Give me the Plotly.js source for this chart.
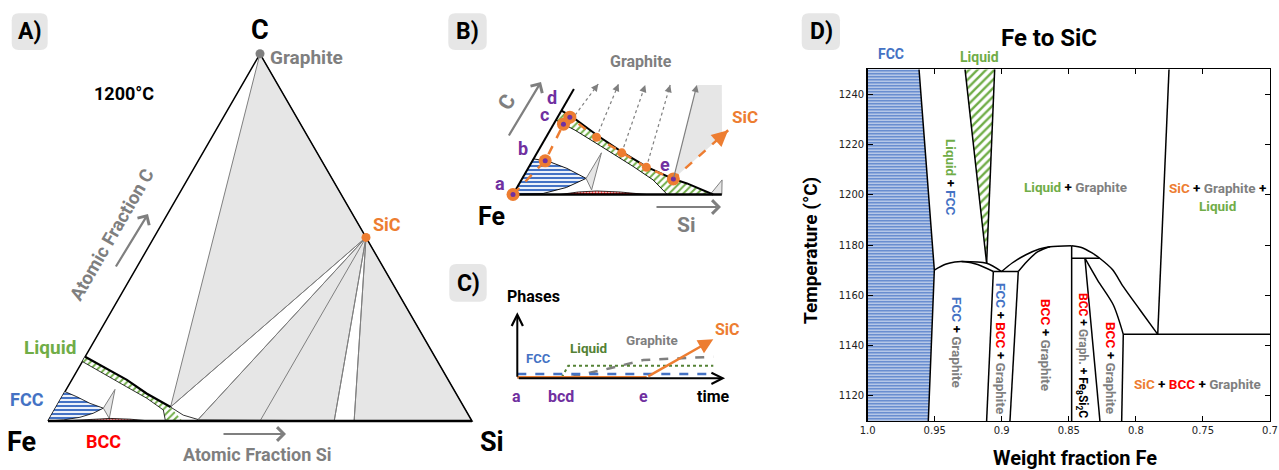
<!DOCTYPE html>
<html>
<head>
<meta charset="utf-8">
<script src="https://cdn.plot.ly/plotly-3.0.1.min.js"></script>
<style>html,body{margin:0;padding:0;background:#fff;}#fig{width:1279px;height:470px;}</style>
</head>
<body>
<div id="fig"></div>
<script>
const W = 1279, H = 470;
const COL = {fcc:'#4472c4', liq:'#70ad47', liqDark:'#548235', sic:'#ed7d31', bcc:'#ff0000', gray:'#7f7f7f', purple:'#7030a0', fill:'#e6e6e6'};
const F = 'Roboto, "Liberation Sans", sans-serif';

// ---------- A) Fe-Si-C isothermal section at 1200 °C, points as [x_Si, x_C] ----------
const triangleA = [[0,0],[0,1],[1,0],[0,0]];
const graphiteA = [0,1];
const sicA = [0.5,0.5];
const threePhaseA1 = [[0,1],[0.270,0.038],[0.5,0.5]];
const threePhaseA2 = [[0.5,0.5],[0.352,0.004],[0.675,0]];
const threePhaseA3 = [[0.5,0.5],[0.722,0],[1,0]];
const sicTieEndsA = [[0.270,0.038],[0.352,0.004],[0.5,0],[0.675,0],[0.722,0]];
const liquidUpperA = [[0,0.175],[0.057,0.148],[0.130,0.112],[0.195,0.075],[0.270,0.038]];
const liquidTailA = [[0.270,0.038],[0.311,0.016],[0.352,0.004]];
const liquidRightA = [[0.270,0.038],[0.317,0]];
const liquidLowerA = [[0,0.162],[0.066,0.130],[0.139,0.093],[0.202,0.062],[0.257,0.030],[0.277,0]];
const fccUpperA = [[0,0.080],[0.035,0.066],[0.075,0.048],[0.113,0.035]];
const fccLowerA = [[0.113,0.035],[0.096,0.021],[0.070,0.010],[0.035,0.003],[0,0]];
const fccTieA = [[0.113,0.035],[0.115,0.086],[0.141,0.007]];
const bccA = [[0.032,0],[0.085,0.004],[0.143,0.007],[0.191,0.005],[0.241,0]];

// ---------- B) Fe corner, enlarged ----------
const edgeB = [[0,0],[0,0.21]];
const baseB = [[0,0],[0.36,0]];
const fccB = [[0,0],[0,0.071],[0.031,0.065],[0.067,0.052],[0.110,0.032],[0.085,0.014],[0.051,0.002],[0,0]];
const fccTieB = [[0.110,0.032],[0.111,0.083],[0.131,0.009]];
const bccB = [[0.081,0],[0.110,0.005],[0.141,0.007],[0.182,0.005],[0.2305,0]];
const liquidUpperB = [[0,0.167],[0.024,0.155],[0.086,0.118],[0.145,0.085],[0.203,0.055],[0.258,0.032],[0.289,0.022],[0.332,0.006],[0.345,0]];
const liquidLowerB = [[0,0.148],[0.043,0.128],[0.102,0.097],[0.179,0.056],[0.227,0.029],[0.266,0]];
const threePhaseB = [[0.261,0.031],[0.208,0.218],[0.251,0.218],[0.302,0.117]];
const cornerB = [[0.340,0],[0.346,0.029],[0.36,0]];
const tieFromB = [[0.028,0.158],[0.087,0.114],[0.146,0.083],[0.203,0.054]];
const tieToB = [[0.037,0.220],[0.072,0.220],[0.119,0.218],[0.162,0.218]];
const tieSolidB = [[0.261,0.031],[0.208,0.218]];
const pathB = [[0,0],[0.022,0.067],[0.017,0.140],[0.021,0.154],[0.087,0.114],[0.146,0.083],[0.203,0.054],[0.261,0.031]];
const pathEndB = [0.307,0.128];
const stopIdxB = [0,1,2,3,7];
const midIdxB = [4,5,6];

// ---------- C) phase amounts along the path (time, amount) ----------
const fccC = [[0,0.43],[10,0.43]];
const liquidC = [[2.27,0.1],[2.6,1.26],[10,1.26]];
const graphiteC = [[0,0.1],[2.69,0.1],[4.73,1.0],[6.43,1.83],[10,2.16]];
const sicFlatC = [[0,0.1],[6.6,0.1]];
const sicRiseC = [[6.6,0.1],[10,3.9]];

// ---------- D) Fe to SiC section (weight fraction Fe, °C) ----------
const fccRegionD = [[1.0,1110],[1.0,1250],[0.9617,1250],[0.9503,1170.1],[0.9548,1110]];
const liquidRegionD = [[0.9274,1250],[0.9053,1250],[0.9113,1172.8]];
const fccEdgeD = [[0.9617,1250],[0.9503,1170.1],[0.9548,1110]];
const liqLeftD = [[0.9274,1250],[0.9113,1172.8]];
const liqRightD = [[0.9053,1250],[0.9113,1172.8]];
const arch1D = [[0.9503,1170.1],[0.942,1172.4],[0.935,1173.3],[0.9274,1173.4],[0.918,1172.3],[0.9063,1169.5]];
const arch1bD = [[0.93,1173.5],[0.9113,1172.8],[0.9001,1169.5]];
const flat1D = [[0.9063,1169.5],[0.8877,1169.5]];
const fbgLeftD = [[0.9063,1169.5],[0.9113,1110]];
const fbgRightD = [[0.8877,1169.5],[0.8939,1110]];
const arch2D = [[0.9001,1169.5],[0.892,1173],[0.882,1176.2],[0.872,1178.5],[0.864,1179.4],[0.8479,1179.8]];
const arch2bD = [[0.8877,1169.5],[0.8814,1173.4],[0.874,1177.1],[0.8665,1179.0],[0.864,1179.4]];
const vert085D = [[0.8479,1179.8],[0.8479,1110]];
const flat2D = [[0.8479,1174.8],[0.827,1174.8]];
const arch3D = [[0.8479,1179.8],[0.840,1179.0],[0.833,1177.0],[0.827,1174.8],[0.8175,1170.3],[0.8094,1163.5],[0.7969,1154.2],[0.7837,1144.5]];
const fe8LineD = [[0.838,1174.8],[0.8268,1110]];
const curve4D = [[0.838,1174.8],[0.8285,1166],[0.8168,1156.2],[0.8094,1144.5]];
const vert081D = [[0.8094,1144.5],[0.8106,1110]];
const flat3D = [[0.8094,1144.5],[0.7,1144.5]];
const rightLineD = [[0.7753,1250],[0.7837,1144.5]];
const tickValsXD = [1.0,0.95,0.9,0.85,0.8,0.75,0.7];
const tickTextXD = ['1.0','0.95','0.9','0.85','0.8','0.75','0.7'];
const tickValsYD = [1120,1140,1160,1180,1200,1220,1240];

// ---------- helpers ----------
const SQ = Math.sqrt(3)/2;
const tx = p => p[0] + p[1]/2;
const ty = p => p[1]*SQ;
const AX = {A:['x','y'], B:['x2','y2'], C:['x3','y3'], D:['x4','y4']};
function tern(pts, panel, line, extra){
  return Object.assign({type:'scatter', mode:'lines', x:pts.map(tx), y:pts.map(ty),
    xaxis:AX[panel][0], yaxis:AX[panel][1], line:line||{color:'#000',width:1},
    hoverinfo:'skip', showlegend:false}, extra||{});
}
function xy(pts, panel, line, extra){
  return Object.assign({type:'scatter', mode:'lines', x:pts.map(p=>p[0]), y:pts.map(p=>p[1]),
    xaxis:AX[panel][0], yaxis:AX[panel][1], line:line||{color:'#000',width:1.5},
    hoverinfo:'skip', showlegend:false}, extra||{});
}
const grayFill = {fill:'toself', fillcolor:COL.fill};
const fccPat = {fill:'toself', fillcolor:'#fff', fillpattern:{shape:'-', fgcolor:COL.fcc, bgcolor:'#fff', size:4, solidity:0.55}};
const liqPat = {fill:'toself', fillcolor:'#fff', fillpattern:{shape:'/', fgcolor:COL.liq, bgcolor:'#fff', size:5, solidity:0.4}};
const bccPat = {fill:'toself', fillcolor:'#fff', fillpattern:{shape:'.', fgcolor:COL.bcc, bgcolor:'#fff', size:3, solidity:0.6}};
const noLine = {width:0, color:'rgba(0,0,0,0)'};
const grayLine = {color:COL.gray, width:1};

const data = [];
// ---- A traces
[threePhaseA1, threePhaseA2, threePhaseA3].forEach(p => data.push(tern(p.concat([p[0]]), 'A', grayLine, grayFill)));
sicTieEndsA.forEach(e => data.push(tern([sicA, e], 'A', grayLine)));
data.push(tern(triangleA, 'A', {color:'#000', width:1.5}));
data.push(tern(liquidUpperA.concat([liquidRightA[1]], liquidLowerA.slice().reverse()), 'A', noLine, liqPat));
data.push(tern(liquidUpperA, 'A', {color:'#000', width:2.2}));
data.push(tern(liquidTailA, 'A', {color:'#000', width:0.8}));
data.push(tern(liquidLowerA, 'A', {color:'#000', width:0.8}));
data.push(tern(fccUpperA.concat(fccLowerA.slice(1)), 'A', noLine, fccPat));
data.push(tern(fccUpperA, 'A', {color:'#000', width:0.8}));
data.push(tern(fccLowerA, 'A', {color:'#000', width:0.8}));
data.push(tern(fccTieA.concat([fccTieA[0]]), 'A', grayLine, grayFill));
data.push(tern(bccA.concat([bccA[0]]), 'A', {color:'#000', width:0.8}, bccPat));
data.push(tern([[0,0],[1,0]], 'A', {color:'#000', width:2.5}));
data.push(Object.assign(tern([graphiteA], 'A'), {mode:'markers', marker:{size:9, color:COL.gray}}));
data.push(Object.assign(tern([sicA], 'A'), {mode:'markers', marker:{size:9, color:COL.sic}}));

// ---- B traces
data.push(tern(threePhaseB.concat([threePhaseB[0]]), 'B', noLine, grayFill));
data.push(tern(cornerB.concat([cornerB[0]]), 'B', grayLine, grayFill));
data.push(tern(liquidUpperB.concat(liquidLowerB.slice().reverse()), 'B', noLine, liqPat));
data.push(tern(liquidUpperB, 'B', {color:'#000', width:2}));
data.push(tern(liquidLowerB, 'B', {color:'#000', width:0.9}));
data.push(tern(fccB, 'B', {color:'#000', width:0.9}, fccPat));
data.push(tern(fccTieB.concat([fccTieB[0]]), 'B', grayLine, grayFill));
data.push(tern(bccB.concat([bccB[0]]), 'B', {color:'#000', width:0.8}, bccPat));
data.push(tern(edgeB, 'B', {color:'#000', width:2}));
data.push(tern(baseB, 'B', {color:'#000', width:2.5}));
tieFromB.forEach((p,i) => data.push(tern([p, tieToB[i]], 'B', {color:COL.gray, width:1.2, dash:'dot'})));
data.push(tern(pathB.concat([pathEndB]), 'B', {color:COL.sic, width:2.5, dash:'dash'}));
data.push(Object.assign(tern(midIdxB.map(i=>pathB[i]), 'B'), {mode:'markers', marker:{size:9, color:COL.sic}}));
data.push(Object.assign(tern(stopIdxB.map(i=>pathB[i]), 'B'), {mode:'markers', marker:{size:13, color:COL.sic}}));
data.push(Object.assign(tern(stopIdxB.map(i=>pathB[i]), 'B'), {mode:'markers', marker:{size:5, color:COL.purple}}));

// ---- C traces
data.push(xy(graphiteC, 'C', {color:COL.gray, width:2.5, dash:'dash'}));
data.push(xy(liquidC, 'C', {color:COL.liqDark, width:2, dash:'dot'}));
data.push(xy(sicFlatC, 'C', {color:COL.sic, width:2.5}));
data.push(xy(fccC, 'C', {color:COL.fcc, width:2.5, dash:'dash'}));

// ---- D traces
data.push(xy(fccRegionD.concat([fccRegionD[0]]), 'D', noLine, Object.assign({}, fccPat, {fillpattern:{shape:'-', fgcolor:COL.fcc, bgcolor:'#fff', size:3, solidity:0.6}})));
data.push(xy(liquidRegionD.concat([liquidRegionD[0]]), 'D', noLine, Object.assign({}, liqPat, {fillpattern:{shape:'/', fgcolor:COL.liq, bgcolor:'#fff', size:6, solidity:0.4}})));
[fccEdgeD, liqLeftD, liqRightD, flat1D, fbgLeftD, fbgRightD, vert085D, flat2D, fe8LineD, vert081D, flat3D, rightLineD]
  .forEach(p => data.push(xy(p, 'D')));
[arch1D, arch1bD, arch2D, arch2bD, arch3D, curve4D]
  .forEach(p => data.push(xy(p, 'D', {color:'#000', width:1.5, shape:'spline', smoothing:0.8})));

// ---------- annotations ----------
const T = (text, x, y, size, color, opt) => Object.assign({text, x:x/W, y:1-y/H, xref:'paper', yref:'paper',
  showarrow:false, xanchor:'center', yanchor:'middle', font:{family:F, size, color:color||'#000', weight:'bold'}}, opt||{});
const pxArrow = (x0,y0,x1,y1,color,width,head,size) => ({text:'', x:x1/W, y:1-y1/H, xref:'paper', yref:'paper',
  ax:x0-x1, ay:y0-y1, showarrow:true, arrowhead:head, arrowwidth:width, arrowcolor:color, arrowsize:size||1, standoff:0, startstandoff:0});
const ternArrow = (from, to, panel, color, width, head, size) => ({text:'', xref:AX[panel][0], yref:AX[panel][1],
  axref:AX[panel][0], ayref:AX[panel][1], x:tx(to), y:ty(to), ax:tx(from), ay:ty(from), showarrow:true,
  arrowhead:head, arrowwidth:width, arrowcolor:color, arrowsize:size||1, standoff:0, startstandoff:0});
const xyArrow = (from, to, panel, color, width, head, size) => ({text:'', xref:AX[panel][0], yref:AX[panel][1],
  axref:AX[panel][0], ayref:AX[panel][1], x:to[0], y:to[1], ax:from[0], ay:from[1], showarrow:true,
  arrowhead:head, arrowwidth:width, arrowcolor:color, arrowsize:size||1, standoff:0, startstandoff:0});
const near = (a, b, f) => [a[0] + (b[0]-a[0])*f, a[1] + (b[1]-a[1])*f];
const span = (t, c) => `<span style="color:${c}">${t}</span>`;
const plus = ' + ';

const annotations = [
  // panel tags
  T('A)', 29.7, 31.7, 23), T('B)', 467.5, 31.7, 23), T('C)', 468, 283, 23), T('D)', 821, 31.7, 23),
  // A
  T('C', 260, 30, 27), T('Graphite', 306, 57, 19, COL.gray), T('1200°C', 124, 93, 18),
  T('SiC', 387, 224, 18, COL.sic), T('Atomic Fraction C', 112, 235, 18.5, COL.gray, {textangle:-60}),
  T('Liquid', 50, 347, 19, COL.liq), T('FCC', 27, 399, 18, COL.fcc), T('Fe', 21, 442, 27),
  T('BCC', 103, 441, 18, COL.bcc), T('Atomic Fraction Si', 257, 454, 18, COL.gray), T('Si', 492, 442, 27),
  pxArrow(115, 268, 148, 214, COL.gray, 2.2, 4, 1.2),
  pxArrow(222, 434, 286, 434, COL.gray, 2.2, 4, 1.2),
  // B
  T('Graphite', 641, 62, 16, COL.gray), T('SiC', 745, 117, 17, COL.sic), T('Fe', 491, 216, 25),
  T('Si', 686, 225, 21, COL.gray), T('C', 507, 102, 21, COL.gray, {textangle:-60}),
  T('a', 500, 183, 18, COL.purple), T('b', 523, 148, 18, COL.purple), T('c', 544, 115, 18, COL.purple),
  T('d', 552, 98, 18, COL.purple), T('e', 665, 164, 18, COL.purple),
  pxArrow(655, 207, 721, 207, COL.gray, 2.2, 4, 1.2),
  pxArrow(508, 137, 541, 82, COL.gray, 2.2, 4, 1.2),
  ternArrow(near(pathB[7], pathEndB, 0.75), pathEndB, 'B', COL.sic, 2.5, 2, 1.3),
  ternArrow(tieSolidB[0], tieSolidB[1], 'B', COL.gray, 1.2, 2, 1.2),
  ...tieFromB.map((p,i) => ternArrow(near(p, tieToB[i], 0.9), tieToB[i], 'B', COL.gray, 1.2, 2, 1.2)),
  // C
  T('Phases', 533, 296, 16), T('time', 713, 396, 16),
  T('a', 516, 396, 16, COL.purple), T('bcd', 561, 396, 16, COL.purple), T('e', 643, 396, 16, COL.purple),
  T('FCC', 538, 358, 13, COL.fcc), T('Liquid', 588, 348, 13.5, COL.liqDark), T('Graphite', 652, 340, 13.5, COL.gray),
  T('SiC', 727, 329, 16, COL.sic),
  xyArrow([0,0], [0,6.6], 'C', '#000', 2, 5, 1.1),
  xyArrow([0,0], [10.6,0], 'C', '#000', 2, 5, 1.1),
  xyArrow(sicRiseC[0], sicRiseC[1], 'C', COL.sic, 2.5, 2, 1.2),
  // D
  T('Fe to SiC', 1049, 38, 24), T('Weight fraction Fe', 1075, 458, 20),
  T('Temperature (°C)', 810, 251, 19, '#000', {textangle:-90}),
  T('FCC', 891, 54, 14, COL.fcc), T('Liquid', 979, 57, 14, COL.liq),
  T(span('Liquid', COL.liq) + plus + span('FCC', COL.fcc), 951, 177, 13.5, '#000', {textangle:90}),
  T(span('Liquid', COL.liq) + plus + span('Graphite', COL.gray), 1075, 187, 13.5),
  T(span('SiC', COL.sic) + plus + span('Graphite', COL.gray) + ' +<br>' + span('Liquid', COL.liq), 1217, 197, 13.5),
  T(span('FCC', COL.fcc) + plus + span('Graphite', COL.gray), 957, 342, 13.5, '#000', {textangle:90}),
  T(span('FCC', COL.fcc) + plus + span('BCC', COL.bcc) + plus + span('Graphite', COL.gray), 1001, 348, 13.5, '#000', {textangle:90}),
  T(span('BCC', COL.bcc) + plus + span('Graphite', COL.gray), 1046, 345, 13.5, '#000', {textangle:90}),
  T(span('BCC', COL.bcc) + plus + span('Graph.', COL.gray) + ' + Fe<sub>8</sub>Si<sub>2</sub>C', 1082, 355, 12, '#000', {textangle:90}),
  T(span('BCC', COL.bcc) + plus + span('Graphite', COL.gray), 1111, 368, 13.5, '#000', {textangle:90}),
  T(span('SiC', COL.sic) + plus + span('BCC', COL.bcc) + plus + span('Graphite', COL.gray), 1197, 384, 13.5)
];

// rounded tag boxes behind the panel letters
function box(x0, y0, x1, y1, r){
  const X = v => (v/W).toFixed(5), Y = v => (1 - v/H).toFixed(5);
  return {type:'path', xref:'paper', yref:'paper', layer:'below', fillcolor:'#e6e6e6', line:{width:0},
    path:`M${X(x0+r)},${Y(y0)} L${X(x1-r)},${Y(y0)} Q${X(x1)},${Y(y0)} ${X(x1)},${Y(y0+r)} L${X(x1)},${Y(y1-r)} Q${X(x1)},${Y(y1)} ${X(x1-r)},${Y(y1)} L${X(x0+r)},${Y(y1)} Q${X(x0)},${Y(y1)} ${X(x0)},${Y(y1-r)} L${X(x0)},${Y(y0+r)} Q${X(x0)},${Y(y0)} ${X(x0+r)},${Y(y0)} Z`};
}
const shapes = [box(11.7,13.3,47.7,50,7), box(448.3,13.3,486.7,50,7), box(449.3,264,486.7,301.7,7), box(801.7,13.3,840,50,7)];

const hidden = {visible:false, fixedrange:true, showgrid:false, zeroline:false};
const dAxis = {ticks:'inside', ticklen:5, tickwidth:1, tickcolor:'#000', mirror:'ticks', showline:true,
  linecolor:'#000', linewidth:1.5, showgrid:false, zeroline:false, fixedrange:true,
  tickfont:{family:'DejaVu Sans', size:10, color:'#222'}};

const layout = {
  width:W, height:H, margin:{l:0, r:0, t:0, b:0, pad:0},
  paper_bgcolor:'#fff', plot_bgcolor:'rgba(0,0,0,0)', showlegend:false,
  xaxis: Object.assign({domain:[0,1], range:[-0.11321, 2.90330], anchor:'y'}, hidden),
  yaxis: Object.assign({domain:[0,1], range:[-0.11557, 0.99292], anchor:'x'}, hidden),
  xaxis2: Object.assign({domain:[0,1], range:[-0.88448, 1.32069], anchor:'y2'}, hidden),
  yaxis2: Object.assign({domain:[0,1], range:[-0.47500, 0.33534], anchor:'x2'}, hidden),
  xaxis3: Object.assign({domain:[0,1], range:[-26.393, 38.862], anchor:'y3'}, hidden),
  yaxis3: Object.assign({domain:[0,1], range:[-9.17, 37.83], anchor:'x3'}, hidden),
  xaxis4: Object.assign({domain:[0.67840, 0.99296], range:[1.0, 0.7], anchor:'y4',
    tickmode:'array', tickvals:tickValsXD, ticktext:tickTextXD}, dAxis),
  yaxis4: Object.assign({domain:[0.10426, 0.85249], range:[1110, 1250], anchor:'x4',
    tickmode:'array', tickvals:tickValsYD, ticktext:tickValsYD.map(String)}, dAxis),
  annotations, shapes
};

Plotly.newPlot('fig', data, layout, {staticPlot:true});
</script>
</body>
</html>
